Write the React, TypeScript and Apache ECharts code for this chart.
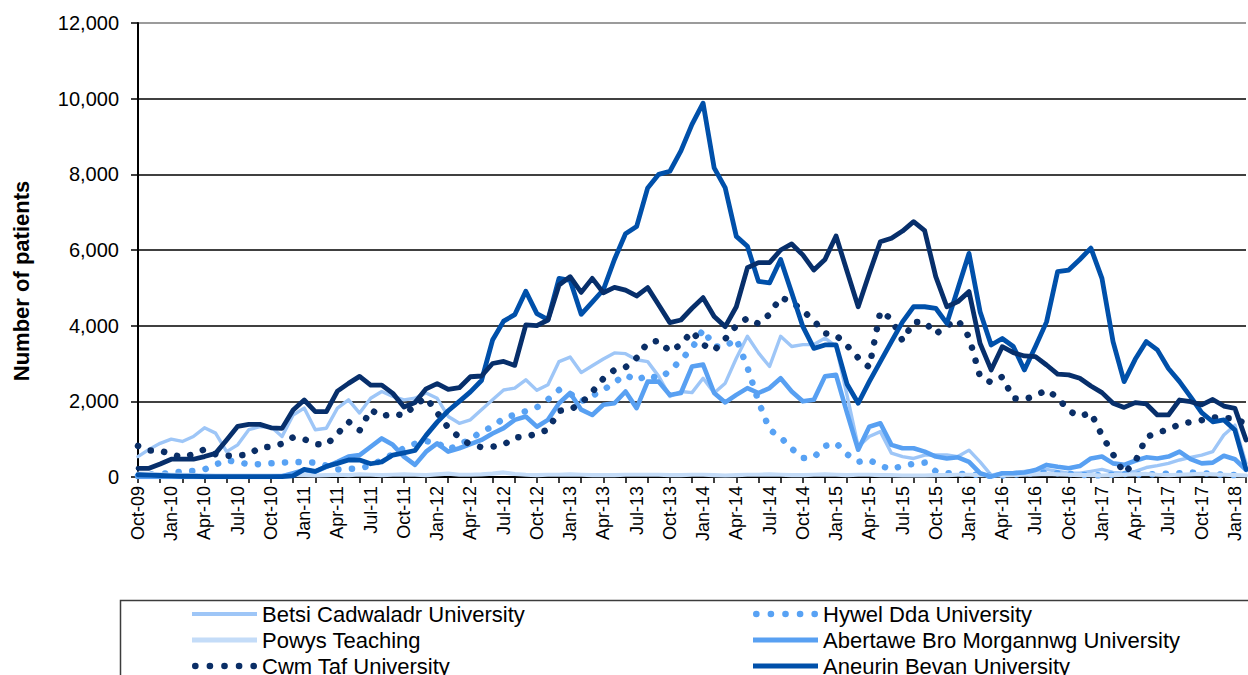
import React, { useEffect, useRef } from 'react';
import * as echarts from 'echarts';

const months = [
  'Oct-09', 'Nov-09', 'Dec-09',
  'Jan-10', 'Feb-10', 'Mar-10', 'Apr-10', 'May-10', 'Jun-10', 'Jul-10', 'Aug-10', 'Sep-10', 'Oct-10', 'Nov-10', 'Dec-10',
  'Jan-11', 'Feb-11', 'Mar-11', 'Apr-11', 'May-11', 'Jun-11', 'Jul-11', 'Aug-11', 'Sep-11', 'Oct-11', 'Nov-11', 'Dec-11',
  'Jan-12', 'Feb-12', 'Mar-12', 'Apr-12', 'May-12', 'Jun-12', 'Jul-12', 'Aug-12', 'Sep-12', 'Oct-12', 'Nov-12', 'Dec-12',
  'Jan-13', 'Feb-13', 'Mar-13', 'Apr-13', 'May-13', 'Jun-13', 'Jul-13', 'Aug-13', 'Sep-13', 'Oct-13', 'Nov-13', 'Dec-13',
  'Jan-14', 'Feb-14', 'Mar-14', 'Apr-14', 'May-14', 'Jun-14', 'Jul-14', 'Aug-14', 'Sep-14', 'Oct-14', 'Nov-14', 'Dec-14',
  'Jan-15', 'Feb-15', 'Mar-15', 'Apr-15', 'May-15', 'Jun-15', 'Jul-15', 'Aug-15', 'Sep-15', 'Oct-15', 'Nov-15', 'Dec-15',
  'Jan-16', 'Feb-16', 'Mar-16', 'Apr-16', 'May-16', 'Jun-16', 'Jul-16', 'Aug-16', 'Sep-16', 'Oct-16', 'Nov-16', 'Dec-16',
  'Jan-17', 'Feb-17', 'Mar-17', 'Apr-17', 'May-17', 'Jun-17', 'Jul-17', 'Aug-17', 'Sep-17', 'Oct-17', 'Nov-17', 'Dec-17',
  'Jan-18', 'Feb-18',
];

const betsi = [
  540, 730, 890, 1000, 940, 1070, 1300, 1160, 670, 850,
  1250, 1330, 1330, 1070, 1640, 1820, 1250, 1290, 1820, 2040,
  1690, 2080, 2260, 2130, 2040, 2080, 2220, 2080, 1600, 1420,
  1510, 1780, 2040, 2300, 2350, 2570, 2290, 2440, 3050, 3170,
  2760, 2940, 3120, 3280, 3260, 3100, 3050, 2660, 2130, 2260,
  2230, 2610, 2220, 2480, 3140, 3720, 3280, 2920, 3720, 3450,
  3500, 3500, 3670, 3450, 2150, 800, 1070, 1200, 630, 540,
  490, 580, 580, 580, 540, 710, 400, 50, 100, 120,
  150, 180, 200, 150, 100, 100, 150, 200, 120, 100,
  150, 250, 300, 360, 450, 520, 580, 670, 1110, 1370,
  360,
];

const hywelDda = [
  30, 60, 80, 110, 140, 160, 200, 330, 440, 400,
  330, 340, 360, 380, 400, 390, 380, 300, 200, 210,
  230, 300, 450, 600, 760, 880, 950, 900, 720, 860,
  1000, 1200, 1330, 1550, 1650, 1740, 1840, 2050, 2300, 2200,
  2000, 2150, 2300, 2500, 2700, 2550, 2700, 2600, 2800, 3100,
  3400, 3900, 3450, 3450, 3650, 2900, 2000, 1250, 1050, 750,
  500, 520, 820, 900, 600, 400, 450, 300, 200, 300,
  350, 380, 150, 100, 80, 80, 50, 30, 40, 60,
  80, 100, 120, 100, 80, 60, 50, 40, 60, 80,
  70, 60, 80, 90, 100, 120, 100, 80, 60, 50,
  40,
];

const powys = [
  90, 80, 70, 60, 60, 50, 50, 40, 40, 40,
  40, 40, 40, 40, 50, 50, 40, 50, 60, 50,
  70, 60, 50, 60, 70, 60, 50, 70, 90, 60,
  60, 70, 90, 120, 80, 60, 50, 60, 60, 70,
  60, 50, 50, 50, 60, 60, 60, 60, 50, 50,
  60, 60, 50, 40, 50, 60, 60, 70, 60, 50,
  50, 60, 70, 60, 50, 60, 60, 50, 50, 40,
  40, 40, 50, 50, 60, 60, 50, 40, 40, 50,
  60, 70, 80, 70, 60, 50, 50, 40, 50, 60,
  70, 80, 60, 50, 60, 70, 80, 70, 60, 50,
  40,
];

const abertawe = [
  0, 0, 0, 0, 0, 0, 0, 0, 0, 0,
  0, 0, 0, 20, 100, 185, 140, 270, 400, 540,
  580, 800, 1020, 850, 540, 320, 670, 890, 670, 760,
  870, 980, 1150, 1290, 1510, 1600, 1330, 1510, 1950, 2220,
  1780, 1640, 1910, 1950, 2260, 1820, 2520, 2520, 2170, 2220,
  2920, 2970, 2220, 1970, 2170, 2350, 2220, 2350, 2610, 2260,
  2000, 2040, 2660, 2700, 1690, 720, 1330, 1420, 850, 760,
  760, 670, 540, 490, 520, 400, 100, 10, 100, 100,
  120, 185, 320, 270, 230, 290, 490, 540, 360, 320,
  430, 520, 490, 540, 670, 470, 360, 380, 560, 470,
  190,
];

const cwmTaf = [
  820, 700, 700, 600, 520, 600, 730, 600, 560, 570,
  590, 780, 800, 880, 1050, 1000, 870, 850, 1140, 1460,
  1230, 1780, 1600, 1680, 1620, 1900, 2100, 1700, 1300, 1050,
  850, 790, 800, 850, 1050, 1060, 1150, 1250, 1750, 1780,
  1950, 2250, 2600, 2830, 2900, 3150, 3550, 3600, 3320, 3500,
  3850, 3500, 3350, 3650, 4000, 4200, 4050, 4300, 4750, 4620,
  4400, 4130, 3800, 3750, 3470, 3150, 2900, 4380, 4180, 3600,
  4100, 4100, 3780, 4000, 4150, 3700, 2650, 2500, 2650, 2080,
  2050, 2150, 2300, 2100, 1750, 1600, 1700, 1100, 600, 100,
  400, 1050, 1180, 1250, 1400, 1450, 1500, 1580, 1550, 1550,
  1400,
];

const aneurinBevan = [
  60, 50, 40, 30, 20, 20, 10, 10, 10, 10,
  10, 10, 10, 10, 30, 200, 150, 280, 360, 450,
  450, 350, 400, 580, 640, 700, 1100, 1450, 1750, 2000,
  2250, 2550, 3620, 4120, 4290, 4910, 4320, 4160, 5250, 5200,
  4300, 4620, 4950, 5750, 6430, 6620, 7640, 8000, 8080, 8620,
  9320, 9880, 8170, 7640, 6360, 6100, 5170, 5130, 5750, 4870,
  3980, 3400, 3490, 3490, 2450, 1950, 2520, 3050, 3580, 4100,
  4500, 4500, 4460, 4060, 4980, 5910, 4370, 3490, 3660, 3450,
  2830, 3450, 4100, 5430, 5470, 5750, 6050, 5250, 3580, 2520,
  3110, 3580, 3360, 2870, 2520, 2120, 1700, 1460, 1510, 1240,
  200,
];

const cardiffVale = [
  230, 230, 345, 470, 470, 470, 540, 625, 980, 1340,
  1390, 1390, 1300, 1285, 1770, 2035, 1730, 1730, 2270, 2475,
  2660, 2430, 2430, 2210, 1850, 1970, 2330, 2470, 2315, 2360,
  2650, 2670, 3000, 3055, 2950, 4020, 4000, 4150, 5075, 5295,
  4880, 5250, 4870, 5010, 4940, 4785, 5005, 4545, 4080, 4150,
  4460, 4740, 4240, 3975, 4500, 5530, 5665, 5665, 6000, 6160,
  5870, 5470, 5750, 6370, 5430, 4500, 5380, 6220, 6310, 6500,
  6750, 6510, 5295, 4500, 4635, 4900, 3530, 2830, 3445, 3285,
  3200, 3180, 2960, 2720, 2700, 2610, 2405, 2230, 1950, 1840,
  1965, 1930, 1640, 1640, 2035, 1990, 1905, 2050, 1875, 1815,
  980,
];

const yTicks = [0, 2000, 4000, 6000, 8000, 10000, 12000];

const FONT = '"Liberation Sans", Arial, sans-serif';

const SOLID = 'path://M0,0L65,0L65,5L0,5Z';
const SOLID_THIN = 'path://M0,0L65,0L65,4L0,4Z';
const dotCenters = [3.3, 17.8, 32.3, 46.8, 61.3];
const DOTS =
  'path://' +
  dotCenters
    .map((c) => `M${c - 3.3},3.3a3.3,3.3 0 1,0 6.6,0a3.3,3.3 0 1,0 -6.6,0Z`)
    .join('');

type Def = { name: string; data: number[]; color: string; width: number; dotted: boolean; icon: string };

const defs: Def[] = [
  { name: 'Betsi Cadwaladr University', data: betsi, color: '#9EC6F7', width: 3.4, dotted: false, icon: SOLID_THIN },
  { name: 'Hywel Dda University', data: hywelDda, color: '#58A2F4', width: 6.5, dotted: true, icon: DOTS },
  { name: 'Powys Teaching', data: powys, color: '#C4DCF8', width: 4.2, dotted: false, icon: SOLID },
  { name: 'Abertawe Bro Morgannwg University', data: abertawe, color: '#58A0F2', width: 4.6, dotted: false, icon: SOLID },
  { name: 'Cwm Taf University', data: cwmTaf, color: '#0A2E66', width: 6.5, dotted: true, icon: DOTS },
  { name: 'Aneurin Bevan University', data: aneurinBevan, color: '#0050AA', width: 4.8, dotted: false, icon: SOLID },
  { name: 'Cardiff and Vale University', data: cardiffVale, color: '#072F6B', width: 4.8, dotted: false, icon: SOLID },
];

const leftCol = [0, 2, 4, 6];
const rightCol = [1, 3, 5];

export default function App() {
  const ref = useRef<HTMLDivElement>(null);
  useEffect(() => {
    const chart = echarts.init(ref.current as HTMLDivElement, undefined, { renderer: 'svg' });
    const legendBase = {
      type: 'plain',
      orient: 'vertical',
      top: 603,
      width: 540,
      height: 200,
      itemWidth: 65,
      itemHeight: 22,
      itemGap: 4,
      padding: 0,
      selectedMode: false,
      symbolKeepAspect: true,
      textStyle: { fontFamily: FONT, fontSize: 22, color: '#000', lineHeight: 22 },
    };
    chart.setOption({
      animation: false,
      backgroundColor: '#fff',
      textStyle: { fontFamily: FONT },
      grid: { left: 138, right: 2, top: 23, bottom: 198, containLabel: false },
      legend: [
        { ...legendBase, left: 192, data: leftCol.map((i) => ({ name: defs[i].name, icon: defs[i].icon })) },
        { ...legendBase, left: 753, width: 490, data: rightCol.map((i) => ({ name: defs[i].name, icon: defs[i].icon })) },
      ],
      graphic: [
        {
          type: 'rect',
          silent: true,
          z: -1,
          shape: { x: 120.5, y: 600.5, width: 1160, height: 140 },
          style: { fill: 'none', stroke: '#3c3c3c', lineWidth: 1.5 },
        },
      ],
      xAxis: {
        type: 'category',
        data: months,
        boundaryGap: false,
        axisLine: { show: true, lineStyle: { color: '#000', width: 2 } },
        axisTick: { show: true, interval: 1, length: 6, lineStyle: { color: '#000', width: 1.5 } },
        axisLabel: { interval: 2, rotate: 90, fontSize: 18, color: '#000', fontFamily: FONT, margin: 9 },
        splitLine: { show: false },
      },
      yAxis: {
        type: 'value',
        min: yTicks[0],
        max: yTicks[yTicks.length - 1],
        interval: yTicks[1] - yTicks[0],
        name: 'Number of patients',
        nameLocation: 'middle',
        nameRotate: 90,
        nameGap: 106,
        nameTextStyle: {
          fontFamily: FONT,
          fontSize: 22,
          fontWeight: 'bold',
          color: '#000',
          padding: [0, 62, 0, 0],
        },
        axisLine: { show: true, lineStyle: { color: '#000', width: 2 } },
        axisTick: { show: true, length: 7, lineStyle: { color: '#000', width: 1.5 } },
        axisLabel: {
          fontSize: 20,
          color: '#000',
          fontFamily: FONT,
          margin: 19,
          formatter: (v: number) => v.toLocaleString('en-US'),
        },
        splitLine: {
          show: true,
          lineStyle: { color: ['#000', '#000', '#000', '#000', '#000', '#000', '#7a7a7a'], width: 1.6 },
        },
      },
      series: defs.map((d) => ({
        name: d.name,
        type: 'line',
        data: d.data,
        color: d.color,
        showSymbol: false,
        symbol: 'none',
        smooth: false,
        itemStyle: { color: d.color },
        lineStyle: d.dotted
          ? { color: d.color, width: d.width, type: [0.1, 13.5], cap: 'round', join: 'round' }
          : { color: d.color, width: d.width, cap: 'round', join: 'round' },
        emphasis: { disabled: true },
      })),
    });
    return () => chart.dispose();
  }, []);
  return (
    <div
      ref={ref}
      style={{ position: 'fixed', left: 0, top: 0, width: 1248, height: 675, background: '#fff' }}
    />
  );
}
